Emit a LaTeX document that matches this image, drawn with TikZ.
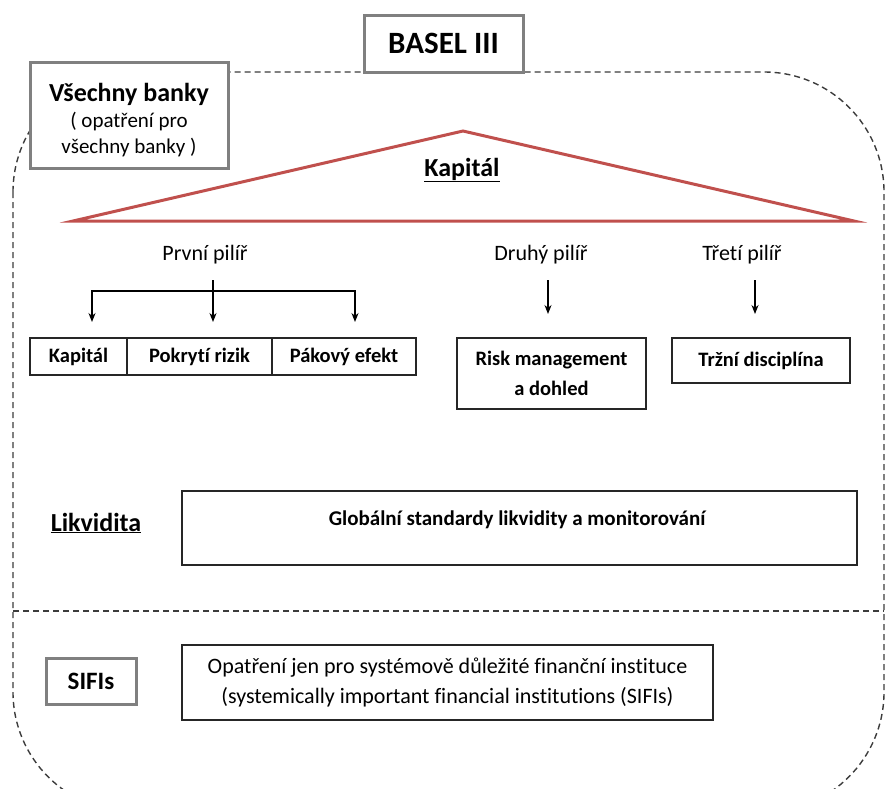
\documentclass[tikz,border=0pt]{standalone}
\usepackage{fontspec}
\setmainfont{Carlito}[Ligatures=NoCommon]
\usetikzlibrary{arrows.meta}
\definecolor{kapred}{RGB}{192,80,77}
\definecolor{framegray}{RGB}{128,128,128}
\definecolor{dashgray}{RGB}{60,60,60}

\begin{document}
\begin{tikzpicture}[x=1pt,y=-1pt,
    graybox/.style={draw=framegray, line width=3pt, fill=white, inner sep=0pt},
    blackbox/.style={draw=black!85, line width=1.4pt, fill=white, inner sep=0pt},
    pillar/.style={font=\fontsize{22}{26}\selectfont},
    cell/.style={font=\fontsize{20.5}{24}\selectfont\bfseries, align=center},
    heading/.style={font=\fontsize{26}{30}\selectfont\bfseries},
    arr/.style={-{Stealth[length=9pt,width=7pt]}, line width=1.3pt},
    frame/.style={draw=dashgray, line width=1.4pt, dash pattern=on 6pt off 4pt}
  ]
  \useasboundingbox (0,0) rectangle (885,788);
  \clip (0,0) rectangle (885,788);

  % dashed frame round all banks, SIFIs below the line
  \draw[frame, rounded corners=120pt] (13,72) rectangle (884,812);
  \draw[frame] (13,611) -- (884,611);

  % top boxes
  \node[graybox, minimum width=159pt, minimum height=57pt, font=\fontsize{31}{36}\selectfont\bfseries]
    (basel) at (443.5,43.5) {BASEL III};
  \node[graybox, minimum width=198pt, minimum height=106pt] (vsechny) at (129,115) {};
  \node[align=center, font=\fontsize{21}{26}\selectfont] (vsechnytext) at (129,120)
    {{\fontsize{26}{29}\selectfont\bfseries Všechny banky}\\( opatření pro\\všechny banky )};

  % capital roof
  \draw[kapred, line width=3pt, miter limit=12] (73,221) -- (463,131) -- (854,221) -- cycle;
  \node[heading] (kapital) at (462,170) {\underline{Kapitál}};

  % pillars
  \node[pillar] (prvni) at (205,255) {První pilíř};
  \node[pillar] (druhy) at (541,255) {Druhý pilíř};
  \node[pillar] (treti) at (742,255) {Třetí pilíř};

  \coordinate (p1top) at (213,280);
  \coordinate (p1bar) at (213,291);
  \coordinate (p1a) at (92,322);
  \coordinate (p1b) at (213,322);
  \coordinate (p1c) at (355,322);
  \draw[arr] (p1bar) -| (p1a);
  \draw[arr] (p1bar) -| (p1c);
  \draw[arr] (p1top) -- (p1b);

  \coordinate (p2top) at (548,280);
  \coordinate (p2end) at (548,314);
  \draw[arr] (p2top) -- (p2end);
  \coordinate (p3top) at (755,280);
  \coordinate (p3end) at (755,314);
  \draw[arr] (p3top) -- (p3end);

  % pillar boxes
  \node[blackbox, cell, minimum width=97pt, minimum height=37pt] (kap) at (78.5,356.5) {Kapitál};
  \node[blackbox, cell, minimum width=145pt, minimum height=37pt] (pokryti) at (199.5,356.5) {Pokrytí rizik};
  \node[blackbox, cell, minimum width=144pt, minimum height=37pt] (pakovy) at (344,356.5) {Pákový efekt};
  \node[blackbox, cell, minimum width=189pt, minimum height=71pt] (risk) at (551.5,373.5) {Risk management\\[6pt]a dohled};
  \node[blackbox, cell, minimum width=178pt, minimum height=45pt] (trzni) at (761,360.5) {Tržní disciplína};

  % liquidity
  \node[heading] (likvidita) at (96,523) {\underline{Likvidita}};
  \node[blackbox, minimum width=675pt, minimum height=74pt] (glob) at (519.5,528) {};
  \node[cell, font=\fontsize{21}{24}\selectfont\bfseries] (globtext) at (517,520) {Globální standardy likvidity a monitorování};

  % SIFIs
  \node[graybox, minimum width=90pt, minimum height=46pt, font=\fontsize{25}{30}\selectfont\bfseries]
    (sifis) at (91,681) {SIFIs};
  \node[blackbox, align=center, minimum width=531pt, minimum height=75pt, font=\fontsize{22}{30}\selectfont]
    (opatreni) at (447.5,682.5) {Opatření jen pro systémově důležité finanční instituce\\(systemically important financial institutions (SIFIs)};
\end{tikzpicture}
\end{document}
